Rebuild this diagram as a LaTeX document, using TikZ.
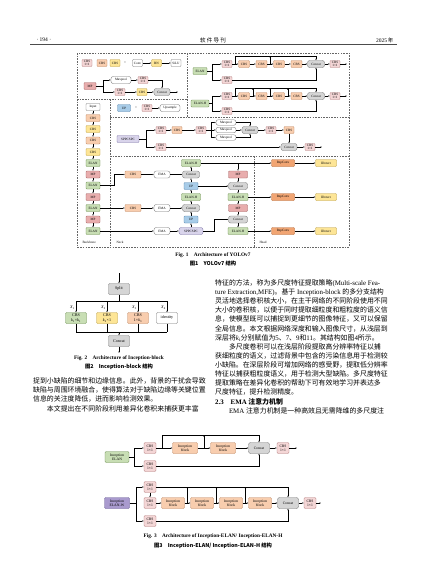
\documentclass[tikz,border=0pt]{standalone}
\usepackage{fontspec}
\setmainfont{Liberation Serif}
\newfontfamily\cjk{Noto Sans CJK SC}
\usetikzlibrary{arrows.meta,positioning,calc}
\XeTeXlinebreaklocale "zh"
\XeTeXlinebreakskip=0pt plus 1pt minus 0.3pt
\definecolor{pinkf}{HTML}{F4D6D6}
\definecolor{pinkd}{HTML}{B27C7C}
\definecolor{peachf}{HTML}{F8CDAE}
\definecolor{peachd}{HTML}{BE8660}
\definecolor{yelf}{HTML}{FDE596}
\definecolor{yeld}{HTML}{B99A3C}
\definecolor{grnf}{HTML}{C8DEB4}
\definecolor{grnd}{HTML}{6B8E4E}
\definecolor{redf}{HTML}{E8ADAD}
\definecolor{redd}{HTML}{A35F5F}
\definecolor{bluf}{HTML}{A8CCE8}
\definecolor{blud}{HTML}{5785AE}
\definecolor{lavf}{HTML}{D9D4EB}
\definecolor{lavd}{HTML}{7B72A6}
\definecolor{gryf}{HTML}{D5D5D5}
\definecolor{gryd}{HTML}{777777}
\definecolor{orgf}{HTML}{F1A573}
\definecolor{orgd}{HTML}{B26532}
\definecolor{purf}{HTML}{A99ACE}
\definecolor{purd}{HTML}{665893}
\newcommand\dfont{\fontsize{3.3}{3.6}\selectfont}
\newcommand\ffont{\fontsize{4.1}{4.6}\selectfont}
\newcommand\gfont{\fontsize{3.7}{4.1}\selectfont}
\newcommand\bodyfont{\cjk\fontsize{6.9}{8}\selectfont}
\newcommand\capfont{\bfseries\fontsize{5.3}{6}\selectfont}
\newcommand\capzhfont{\cjk\bfseries\fontsize{5.3}{6}\selectfont}
\newcommand\jl{\parfillskip=0pt\relax}
\newcommand\lat[1]{{\rmfamily #1}}
\newcommand\ksub[1]{\textit{k}\textsubscript{#1}}
\tikzset{
  bx/.style={rounded corners=0.8pt, line width=0.35pt, inner sep=0.4pt,
    minimum height=7pt, minimum width=10pt, font=\dfont, align=center},
  pk/.style={bx, fill=pinkf, draw=pinkd},
  pe/.style={bx, fill=peachf, draw=peachd},
  ye/.style={bx, fill=yelf, draw=yeld},
  gr/.style={bx, fill=grnf, draw=grnd},
  rd/.style={bx, fill=redf, draw=redd},
  bl/.style={bx, fill=bluf, draw=blud},
  lv/.style={bx, fill=lavf, draw=lavd},
  gy/.style={bx, fill=gryf, draw=gryd},
  wh/.style={bx, fill=white, draw=black!55},
  og/.style={bx, fill=orgf, draw=orgd},
  pu/.style={bx, fill=purf, draw=purd},
  pill/.style={rounded corners=2.2pt},
  f2/.style={font=\ffont, minimum height=11pt, minimum width=21pt, rounded corners=1.2pt},
  f3/.style={font=\gfont, minimum height=11pt, minimum width=12pt, rounded corners=1.2pt},
  arr/.style={-{Latex[length=1.5pt,width=1.3pt]}, line width=0.3pt},
  ln/.style={line width=0.3pt},
  zone/.style={dash pattern=on 1.6pt off 1.1pt, line width=0.4pt, black!60},
  jline/.style={anchor=west, inner sep=0pt, text width=175pt, align=justify, font=\bodyfont},
  pline/.style={anchor=west, inner sep=0pt, font=\bodyfont},
}

\begin{document}
\begin{tikzpicture}[x=1pt,y=-1pt]
	\fill[white] (0,0) rectangle (427,579);
	\useasboundingbox (0,0) rectangle (427,579);
	% page header
	\node[anchor=west, font=\fontsize{5.5}{6}\selectfont] (pgno) at (33,40) {·\ 194\ ·};
	\node[font=\cjk\fontsize{5.5}{6}\selectfont] (jname) at (213,40) {软\ 件\ 导\ 刊};
	\node[anchor=east, font=\fontsize{5.5}{6}\selectfont] (year) at (397,40) {2025\,{\cjk 年}};
	\draw[line width=0.7pt, black!70] (30,44.5) -- (397,44.5);

	% ---------- Fig. 1 ----------
	\draw[zone] (77,53) rectangle (349,247);
	\draw[zone] (187,53) -- (187,117);
	\draw[zone] (77,99) -- (187,99);
	\draw[zone] (110,99) -- (110,247);
	\draw[zone] (110,117) -- (349,117);
	\draw[zone] (110,156) -- (349,156);
	\draw[zone] (254,156) -- (254,247);

	% legend
	\node[pk] (lgA) at (87,63) {CBS\\1×1};
	\node[pe] (lgB) at (102,63) {CBS};
	\node[ye] (lgC) at (115,63) {CBS};
	\node[font=\dfont] (lgEq) at (125,63) {=};
	\node[wh] (lgConv) at (137.5,63) {Conv};
	\node[ye] (lgBN) at (156.5,63) {BN};
	\node[wh] (lgSiLU) at (176,63) {SiLU};
	\draw[arr] (lgConv) -- (lgBN);
	\draw[arr] (lgBN) -- (lgSiLU);

	\node[rd, minimum width=12pt] (lgMP) at (90,86) {MP};
	\coordinate (lgS) at (103,86);
	\node[wh, pill, minimum width=20pt] (lgMax) at (121,80) {Maxpool};
	\node[pk] (lgM1) at (143,80) {CBS\\1×1};
	\node[pk] (lgL1) at (120,92) {CBS\\1×1};
	\node[ye] (lgL2) at (142,92) {CBS};
	\node[gy, pill, minimum width=16pt] (lgCat) at (162,92) {Concat};
	\coordinate (lgOut) at (178,92);
	\draw[ln] (lgMP) -- (lgS);
	\draw[arr] (lgS) |- (lgMax);
	\draw[arr] (lgS) |- (lgL1);
	\draw[arr] (lgMax) -- (lgM1);
	\draw[arr] (lgM1) -| (lgCat);
	\draw[arr] (lgL1) -- (lgL2);
	\draw[arr] (lgL2) -- (lgCat);
	\draw[arr] (lgCat) -- (lgOut);

	\node[bl, minimum width=13pt] (lgUP) at (124,108) {UP};
	\node[font=\dfont] (lgEq2) at (136,108) {=};
	\node[pk] (lgU1) at (147,108) {CBS\\1×1};
	\node[wh, pill, minimum width=20pt] (lgUps) at (170,108) {Upsample};
	\draw[arr] (lgU1) -- (lgUps);

	% backbone
	\node[wh, minimum width=14pt] (bIn) at (93,107) {Input};
	\node[pe, minimum width=14pt] (bC1) at (93,118) {CBS};
	\node[ye, minimum width=14pt] (bC2) at (93,129) {CBS};
	\node[pe, minimum width=14pt] (bC3) at (93,140.5) {CBS};
	\node[ye, minimum width=14pt] (bC4) at (93,152) {CBS};
	\node[gr, minimum width=14pt] (bE1) at (93,163) {ELAN};
	\node[rd, minimum width=14pt] (bM1) at (93,174.5) {MP};
	\node[gr, minimum width=14pt] (bE2) at (93,185.5) {ELAN};
	\node[rd, minimum width=14pt] (bM2) at (93,197) {MP};
	\node[gr, minimum width=14pt] (bE3) at (93,208) {ELAN};
	\node[rd, minimum width=14pt] (bM3) at (93,219.5) {MP};
	\node[gr, minimum width=14pt] (bE4) at (93,231) {ELAN};
	\foreach \a/\b in {bIn/bC1, bC1/bC2, bC2/bC3, bC3/bC4, bC4/bE1, bE1/bM1,
		bM1/bE2, bE2/bM2, bM2/bE3, bE3/bM3, bM3/bE4}
		\draw[arr] (\a) -- (\b);

	% SPPCSPC
	\node[lv, minimum width=22pt] (sNode) at (128,139) {SPPCSPC};
	\coordinate (sS) at (146,139);
	\node[pk] (s1) at (161,130) {CBS\\1×1};
	\node[pe] (s2) at (177,130) {CBS};
	\node[pk] (s3) at (201,130) {CBS\\1×1};
	\coordinate (sT) at (211,130);
	\node[wh, pill, minimum width=20pt, minimum height=5.5pt] (sMx1) at (226,122.5) {Maxpool};
	\node[wh, pill, minimum width=20pt, minimum height=5.5pt] (sMx2) at (226,130) {Maxpool};
	\node[wh, pill, minimum width=20pt, minimum height=5.5pt] (sMx3) at (226,137.5) {Maxpool};
	\node[gy, pill, minimum width=16pt] (sCat) at (250,130) {Concat};
	\node[pk] (s4) at (271,130) {CBS\\1×1};
	\node[pe] (s5) at (289,130) {CBS};
	\node[gy, pill, minimum width=16pt] (sCat2) at (289,147) {Concat};
	\node[pk] (s6) at (161,147) {CBS\\1×1};
	\node[pk] (s7) at (310,147) {CBS\\1×1};
	\coordinate (sOut) at (322,147);
	\draw[ln] (sNode) -- (sS);
	\draw[arr] (sS) |- (s1);
	\draw[arr] (sS) |- (s6);
	\draw[arr] (s1) -- (s2);
	\draw[arr] (s2) -- (s3);
	\draw[ln] (s3) -- (sT);
	\draw[arr] (sT) |- (sMx1);
	\draw[arr] (sT) -- (sMx2);
	\draw[arr] (sT) |- (sMx3);
	\draw[arr] (sMx1) -| (sCat);
	\draw[arr] (sMx2) -- (sCat);
	\draw[arr] (sMx3) -| (sCat);
	\draw[arr] (sCat) -- (s4);
	\draw[arr] (s4) -- (s5);
	\draw[arr] (s5) -- (sCat2);
	\draw[arr] (s6) -- (sCat2);
	\draw[arr] (sCat2) -- (s7);
	\draw[arr] (s7) -- (sOut);

	% ELAN
	\node[gr, minimum width=14pt] (eA) at (200,71) {ELAN};
	\coordinate (eAs) at (212,71);
	\node[pk] (eA1) at (227,64) {CBS\\1×1};
	\node[pk] (eA2) at (227,80) {CBS\\1×1};
	\node[pe, minimum width=11pt] (eA3) at (244,64) {CBS};
	\node[pe, minimum width=11pt] (eA4) at (261.5,64) {CBS};
	\node[pe, minimum width=11pt] (eA5) at (279,64) {CBS};
	\node[pe, minimum width=11pt] (eA6) at (296.5,64) {CBS};
	\node[gy, pill, minimum width=17pt] (eAc) at (316,64) {Concat};
	\node[pk] (eA7) at (335,64) {CBS\\1×1};
	\coordinate (eAo) at (347,64);
	\coordinate (eAp) at (235.3,64);
	\coordinate (eAb) at (235.3,56);
	\coordinate (eAt) at (316,56);
	\coordinate (eAq) at (270.3,64);
	\draw[ln] (eA) -- (eAs);
	\draw[arr] (eAs) |- (eA1);
	\draw[arr] (eAs) |- (eA2);
	\foreach \a/\b in {eA1/eA3, eA3/eA4, eA4/eA5, eA5/eA6, eA6/eAc, eAc/eA7, eA7/eAo}
		\draw[arr] (\a) -- (\b);
	\draw[arr] (eAp) -- (eAb) -- (eAt) -- (eAc);
	\draw[arr] (eAq) -- (eAq |- eAt);
	\draw[arr] (eA2) -| (eAc);

	% ELAN-H
	\node[gr, minimum width=18pt] (eH) at (200,103.5) {ELAN-H};
	\coordinate (eHs) at (212,103.5);
	\node[pk] (eH1) at (227,96) {CBS\\1×1};
	\node[pk] (eH2) at (227,111) {CBS\\1×1};
	\node[pe, minimum width=11pt] (eH3) at (244,96) {CBS};
	\node[pe, minimum width=11pt] (eH4) at (261.5,96) {CBS};
	\node[pe, minimum width=11pt] (eH5) at (279,96) {CBS};
	\node[pe, minimum width=11pt] (eH6) at (296.5,96) {CBS};
	\node[gy, pill, minimum width=17pt] (eHc) at (316,96) {Concat};
	\node[pk] (eH7) at (335,96) {CBS\\1×1};
	\coordinate (eHo) at (347,96);
	\coordinate (eHp) at (235.3,96);
	\coordinate (eHb) at (235.3,88);
	\coordinate (eHt) at (316,88);
	\draw[ln] (eH) -- (eHs);
	\draw[arr] (eHs) |- (eH1);
	\draw[arr] (eHs) |- (eH2);
	\foreach \a/\b in {eH1/eH3, eH3/eH4, eH4/eH5, eH5/eH6, eH6/eHc, eHc/eH7, eH7/eHo}
		\draw[arr] (\a) -- (\b);
	\draw[arr] (eHp) -- (eHb) -- (eHt) -- (eHc);
	\foreach \x in {252.8,270.3,287.8}
		\draw[arr] (\x,96) -- (\x,88);
	\draw[arr] (eH2) -| (eHc);

	% neck
	\node[gr, minimum width=19pt] (nE1) at (191,163) {ELAN-H};
	\node[pe, minimum width=16pt] (nC1) at (133,174.5) {CBS};
	\node[wh, pill, minimum width=16pt] (nEm1) at (162,174.5) {EMA};
	\node[gy, pill, minimum width=17pt] (nCt1) at (191,174.5) {Concat};
	\node[bl, minimum width=14pt] (nU1) at (191,186) {UP};
	\node[gr, minimum width=19pt] (nE2) at (191,197) {ELAN-H};
	\node[pe, minimum width=16pt] (nC2) at (133,208) {CBS};
	\node[wh, pill, minimum width=16pt] (nEm2) at (162,208) {EMA};
	\node[gy, pill, minimum width=17pt] (nCt2) at (191,208) {Concat};
	\node[bl, minimum width=14pt] (nU2) at (191,219.5) {UP};
	\node[wh, pill, minimum width=16pt] (nEm3) at (162,231) {EMA};
	\node[lv, pill, minimum width=24pt] (nSp) at (191,231) {SPPCSPC};
	\foreach \a/\b in {nSp/nU2, nU2/nCt2, nCt2/nE2, nE2/nU1, nU1/nCt1, nCt1/nE1,
		nC1/nEm1, nEm1/nCt1, nC2/nEm2, nEm2/nCt2, nEm3/nSp, bE3/nC2, bE4/nEm3}
		\draw[arr] (\a) -- (\b);
	\coordinate (nB1) at (114,185.5);
	\draw[arr] (bE2) -- (nB1) |- (nC1);

	% head
	\node[rd, minimum width=19pt] (hM1) at (238,174.5) {MP};
	\node[gy, pill, minimum width=19pt] (hCt1) at (238,186) {Concat};
	\node[gr, minimum width=20pt] (hE1) at (238,197) {ELAN-H};
	\node[rd, minimum width=19pt] (hM2) at (238,208) {MP};
	\node[gy, pill, minimum width=19pt] (hCt2) at (238,219.5) {Concat};
	\node[gr, minimum width=20pt] (hE2) at (238,231) {ELAN-H};
	\node[og, minimum width=23pt] (hR1) at (283,163) {RepConv};
	\node[og, minimum width=23pt] (hR2) at (283,197) {RepConv};
	\node[og, minimum width=23pt] (hR3) at (283,231) {RepConv};
	\node[ye, minimum width=21pt] (hD1) at (326,163) {IDetect};
	\node[ye, minimum width=21pt] (hD2) at (326,197) {IDetect};
	\node[ye, minimum width=21pt] (hD3) at (326,231) {IDetect};
	\coordinate (hJ) at (238,163);
	\coordinate (hB2) at (214,231);
	\foreach \a/\b in {nE1/hR1, hJ/hM1, hM1/hCt1, hCt1/hE1, hE1/hM2, hM2/hCt2, hCt2/hE2,
		hE1/hR2, hE2/hR3, hR1/hD1, hR2/hD2, hR3/hD3, nU1/hCt1}
		\draw[arr] (\a) -- (\b);
	\draw[arr] (nSp) -- (hB2) |- (hCt2);

	\node[anchor=west, font=\dfont] (lbBack) at (79,242) {Backbone};
	\node[anchor=west, font=\dfont] (lbNeck) at (113,242) {Neck};
	\node[anchor=west, font=\dfont] (lbHead) at (256,242) {Head};

	\node[font=\capfont] (cap1) at (213,255) {Fig. 1\quad Architecture of YOLOv7};
	\node[font=\capzhfont] (cap1z) at (213,263.5) {图1\quad YOLOv7 结构};

	% ---------- Fig. 2 ----------
	\coordinate (fIn) at (119,273);
	\node[gy, f2] (fSp) at (119,289) {Split};
	\coordinate (fBus) at (119,301);
	\coordinate (fT1) at (76,301);
	\coordinate (fT2) at (107,301);
	\coordinate (fT3) at (138,301);
	\coordinate (fT4) at (167,301);
	\node[gr, f2] (fB1) at (76,318) {CBS\\\ksub{1}×\ksub{1}};
	\node[ye, f2] (fB2) at (107,318) {CBS\\\ksub{2}×1};
	\node[pe, f2] (fB3) at (138,318) {CBS\\1×\ksub{3}};
	\node[wh, f2] (fB4) at (167,318) {identity};
	\coordinate (fD1) at (76,332);
	\coordinate (fD2) at (107,332);
	\coordinate (fD3) at (138,332);
	\coordinate (fD4) at (167,332);
	\coordinate (fDm) at (119,332);
	\node[gy, f2] (fCat) at (119,341) {Concat};
	\coordinate (fOut) at (119,353);
	\draw[arr] (fIn) -- (fSp);
	\draw[ln] (fSp) -- (fBus);
	\draw[ln] (fT1) -- (fT4);
	\draw[ln] (fD1) -- (fD4);
	\foreach \i in {1,2,3,4}{
		\draw[arr] (fT\i) -- (fB\i);
		\draw[ln] (fB\i) -- (fD\i);
		\node[font=\ffont, anchor=south east, inner sep=0.5pt] (fX\i) at ($(fT\i)+(-0.5,9)$) {\textit{X}\textsubscript{\i}};
	}
	\draw[arr] (fDm) -- (fCat);
	\draw[arr] (fCat) -- (fOut);

	\node[font=\capfont] (cap2) at (119,358) {Fig. 2\quad Architecture of Inception-block};
	\node[font=\capzhfont] (cap2z) at (119,367) {图2\quad Inception-block 结构};

	% ---------- body text ----------
	\node[jline] (tL1) at (33,381) {\jl 捉到小缺陷的细节和边缘信息。此外，背景的干扰会导致};
	\node[jline] (tL2) at (33,390.1) {\jl 缺陷与周围环境融合，使得算法对于缺陷边缘等关键位置};
	\node[pline] (tL3) at (33,399.2) {信息的关注度降低，进而影响检测效果。};
	\node[jline] (tL4) at (33,408.5) {\jl\hspace*{13.8pt}本文提出在不同阶段利用差异化卷积来捕获更丰富};

	\node[jline] (tR1) at (215,283) {\jl 特征的方法，称为多尺度特征提取策略\lat{(Multi-scale Fea-}};
	\node[jline] (tR2) at (215,292.1) {\jl \lat{ture Extraction,MFE)}。基于\lat{ Inception-block }的多分支结构};
	\node[jline] (tR3) at (215,301.2) {\jl 灵活地选择卷积核大小，在主干网络的不同阶段使用不同};
	\node[jline] (tR4) at (215,310.3) {\jl 大小的卷积核，以便于同时提取细粒度和粗粒度的语义信};
	\node[jline] (tR5) at (215,319.4) {\jl 息，使模型既可以捕捉到更细节的图像特征，又可以保留};
	\node[jline] (tR6) at (215,328.5) {\jl 全局信息。本文根据网络深度和输入图像尺寸，从浅层到};
	\node[pline] (tR7) at (215,337.6) {深层将\lat{\ksub{i}}分别赋值为\lat{5}、\lat{7}、\lat{9}和\lat{11}。其结构如图\lat{4}所示。};
	\node[jline] (tR8) at (215,346.7) {\jl\hspace*{13.8pt}多尺度卷积可以在浅层阶段提取高分辨率特征以捕};
	\node[jline] (tR9) at (215,355.8) {\jl 获细粒度的语义，过滤背景中包含的污染信息用于检测较};
	\node[jline] (tR10) at (215,364.9) {\jl 小缺陷。在深层阶段可增加网络的感受野，提取低分辨率};
	\node[jline] (tR11) at (215,374) {\jl 特征以捕获粗粒度语义，用于检测大型缺陷。多尺度特征};
	\node[jline] (tR12) at (215,383.1) {\jl 提取策略在差异化卷积的帮助下可有效地学习并表达多};
	\node[pline] (tR13) at (215,392.2) {尺度特征，提升检测精度。};
	\node[pline, font=\bodyfont\bfseries] (tR14) at (215,401.6) {\lat{\bfseries 2.3}\quad\lat{\bfseries EMA} 注意力机制};
	\node[jline] (tR15) at (215,411) {\jl\hspace*{13.8pt}\lat{EMA }注意力机制是一种高效且无需降维的多尺度注};

	% ---------- Fig. 3 ----------
	\node[gr, f3, minimum width=24pt] (gA) at (117,457) {Inception\\ELAN};
	\coordinate (gAs) at (134,457);
	\node[pk, f3] (gA1) at (150,448) {CBS\\1×1};
	\node[pk, f3] (gA2) at (150,466) {CBS\\1×1};
	\node[pe, f3, minimum width=25pt] (gA3) at (185,448) {Inception\\block};
	\node[pe, f3, minimum width=25pt] (gA4) at (223,448) {Inception\\block};
	\node[gy, f3, pill, minimum width=21pt] (gAc) at (259,448) {Concat};
	\node[pk, f3] (gA5) at (283,448) {CBS\\1×1};
	\coordinate (gAo) at (297,448);
	\coordinate (gAp) at (162,448);
	\coordinate (gAb) at (162,435);
	\coordinate (gAt) at (259,435);
	\coordinate (gAq) at (204,448);
	\draw[ln] (gA) -- (gAs);
	\draw[arr] (gAs) |- (gA1);
	\draw[arr] (gAs) |- (gA2);
	\foreach \a/\b in {gA1/gA3, gA3/gA4, gA4/gAc, gAc/gA5, gA5/gAo}
		\draw[arr] (\a) -- (\b);
	\draw[arr] (gAp) -- (gAb) -- (gAt) -- (gAc);
	\draw[arr] (gAq) -- (gAq |- gAt);
	\draw[arr] (gA2) -| (gAc);

	\node[pu, f3, minimum width=25pt] (gB) at (117,503) {Inception\\ELAN-W};
	\coordinate (gBs) at (136,503);
	\node[pk, f3] (gB1) at (150,487) {CBS\\1×1};
	\node[pk, f3] (gB2) at (150,503) {CBS\\1×1};
	\node[pk, f3] (gB3) at (150,521) {CBS\\1×1};
	\node[pe, f3, minimum width=23pt] (gB4) at (173,503) {Inception\\block};
	\node[pe, f3, minimum width=23pt] (gB5) at (202,503) {Inception\\block};
	\node[pe, f3, minimum width=23pt] (gB6) at (231,503) {Inception\\block};
	\node[pe, f3, minimum width=23pt] (gB7) at (260,503) {Inception\\block};
	\node[gy, f3, pill, minimum width=21pt] (gBc) at (288,503) {Concat};
	\node[pk, f3] (gB8) at (310,503) {CBS\\1×1};
	\coordinate (gBo) at (321,503);
	\coordinate (gBt) at (288,487);
	\draw[ln] (gB) -- (gBs);
	\draw[ln] (gBs) -- (gBs |- gB1);
	\draw[ln] (gBs) -- (gBs |- gB3);
	\draw[arr] (gBs |- gB1) -- (gB1);
	\draw[arr] (gBs |- gB3) -- (gB3);
	\draw[arr] (gB1) -- (gB2);
	\foreach \a/\b in {gB2/gB4, gB4/gB5, gB5/gB6, gB6/gB7, gB7/gBc, gBc/gB8, gB8/gBo}
		\draw[arr] (\a) -- (\b);
	\draw[arr] (gB1) -- (gBt) -- (gBc);
	\foreach \x in {187.5,216.5,245.5}
		\draw[arr] (\x,503) -- (\x,487);
	\draw[arr] (gB3) -| (gBc);

	\node[font=\capfont] (cap3) at (213,536) {Fig. 3\quad Architecture of Inception-ELAN/ Inception-ELAN-H};
	\node[font=\capzhfont] (cap3z) at (213,545.5) {图3\quad Inception-ELAN/ Inception-ELAN-H 结构};
\end{tikzpicture}
\end{document}
